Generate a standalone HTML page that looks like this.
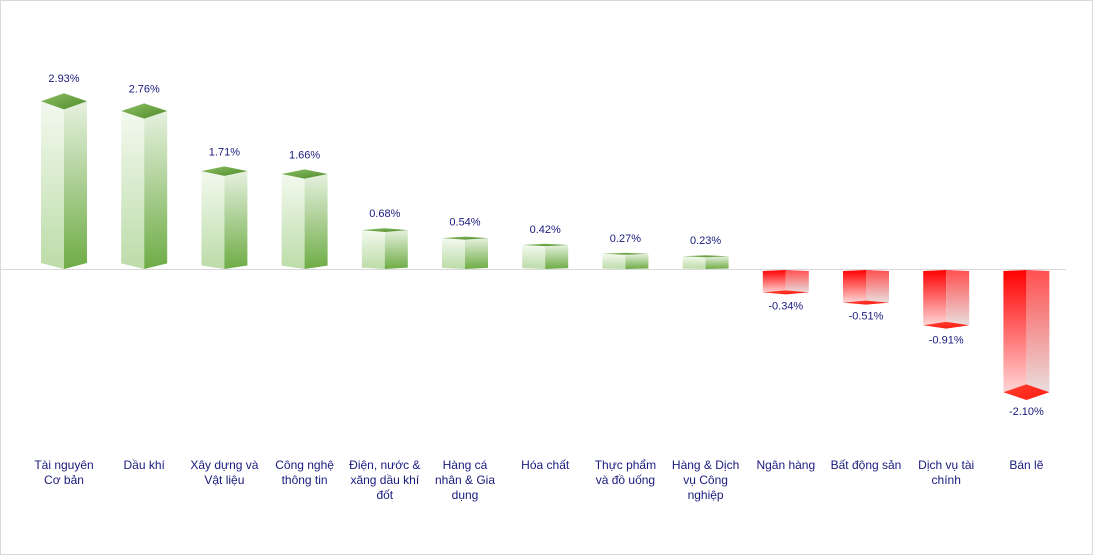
<!DOCTYPE html>
<html><head><meta charset="utf-8"><style>
html,body{margin:0;padding:0;background:#fff}
svg{display:block;font-family:"Liberation Sans","DejaVu Sans",sans-serif}
</style></head><body>
<svg width="1093" height="555" viewBox="0 0 1093 555">
<defs>
<linearGradient id="gl" x1="0" y1="0" x2="0" y2="1"><stop offset="0" stop-color="#f3f9ef"/><stop offset="1" stop-color="#bcdca8"/></linearGradient>
<linearGradient id="gr" x1="0" y1="0" x2="0" y2="1"><stop offset="0" stop-color="#e6f1df"/><stop offset="1" stop-color="#6eac45"/></linearGradient>
<linearGradient id="gt" x1="0" y1="0" x2="1" y2="1"><stop offset="0" stop-color="#8cc063"/><stop offset="1" stop-color="#4f8a2c"/></linearGradient>
<linearGradient id="rl" x1="0" y1="0" x2="0" y2="1"><stop offset="0" stop-color="#ff0000"/><stop offset="1" stop-color="#ffe4e4"/></linearGradient>
<linearGradient id="rr" x1="0" y1="0" x2="0" y2="1"><stop offset="0" stop-color="#ff5050"/><stop offset="1" stop-color="#e8e6e6"/></linearGradient>
<linearGradient id="rb" x1="0" y1="0" x2="1" y2="1"><stop offset="0" stop-color="#ff4030"/><stop offset="1" stop-color="#ff1a10"/></linearGradient>
</defs>
<rect x="0.5" y="0.5" width="1092" height="554" fill="#fff" stroke="#d9d9d9"/>
<line x1="0" y1="269.5" x2="1066" y2="269.5" stroke="#d9d9d9" stroke-width="1"/>
<g id="bars"></g>
<g id="labels" font-size="11" fill="#1a1a7e" text-anchor="middle"></g>
<g id="cats" font-size="12" fill="#1a1a7e" text-anchor="middle"></g>
</svg>
<script>
var vals=[2.93,2.76,1.71,1.66,0.68,0.54,0.42,0.27,0.23,-0.34,-0.51,-0.91,-2.10];
var cats=[["Tài nguyên","Cơ bản"],["Dầu khí"],["Xây dựng và","Vật liệu"],["Công nghệ","thông tin"],["Điện, nước &","xăng dầu khí","đốt"],["Hàng cá","nhân & Gia","dụng"],["Hóa chất"],["Thực phẩm","và đồ uống"],["Hàng & Dịch","vụ Công","nghiệp"],["Ngân hàng"],["Bất động sản"],["Dịch vụ tài","chính"],["Bán lẽ"]];
var NS="http://www.w3.org/2000/svg",B=document.getElementById("bars"),L=document.getElementById("labels"),C=document.getElementById("cats");
function poly(pts,fill){var p=document.createElementNS(NS,"polygon");p.setAttribute("points",pts.map(function(a){return a.join(",")}).join(" "));p.setAttribute("fill",fill);B.appendChild(p);}
function txt(g,x,y,s){var t=document.createElementNS(NS,"text");t.setAttribute("x",x);t.setAttribute("y",y);t.textContent=s;g.appendChild(t);}
var base=269,sc=60,hw=23;
vals.forEach(function(v,i){
 var cx=64+80.2*i,l=cx-hw,r=cx+hw;
 if(v>0){
  var Y=base-v*sc, h=v*sc, d=Math.max(1,0.046*h), bd=Math.max(0.5,0.034*h);
  poly([[l,Y+d],[cx,Y+2*d],[cx,base],[l,base-bd]],"url(#gl)");
  poly([[cx,Y+2*d],[r,Y+d],[r,base-bd],[cx,base]],"url(#gr)");
  poly([[l,Y+d],[cx,Y],[r,Y+d],[cx,Y+2*d]],"url(#gt)");
  txt(L,cx,Y-11,v.toFixed(2)+"%");
 } else {
  var h=-v*sc, d=Math.max(2,0.062*h), F=base+h+5;
  poly([[l,271],[cx,270],[cx,F],[l,F-d]],"url(#rl)");
  poly([[cx,270],[r,271],[r,F-d],[cx,F]],"url(#rr)");
  poly([[l,F-d],[cx,F-2*d],[r,F-d],[cx,F]],"url(#rb)");
  txt(L,cx,F+15,v.toFixed(2)+"%");
 }
 cats[i].forEach(function(s,j){txt(C,cx,469+j*15,s);});
});
</script>
</body></html>
